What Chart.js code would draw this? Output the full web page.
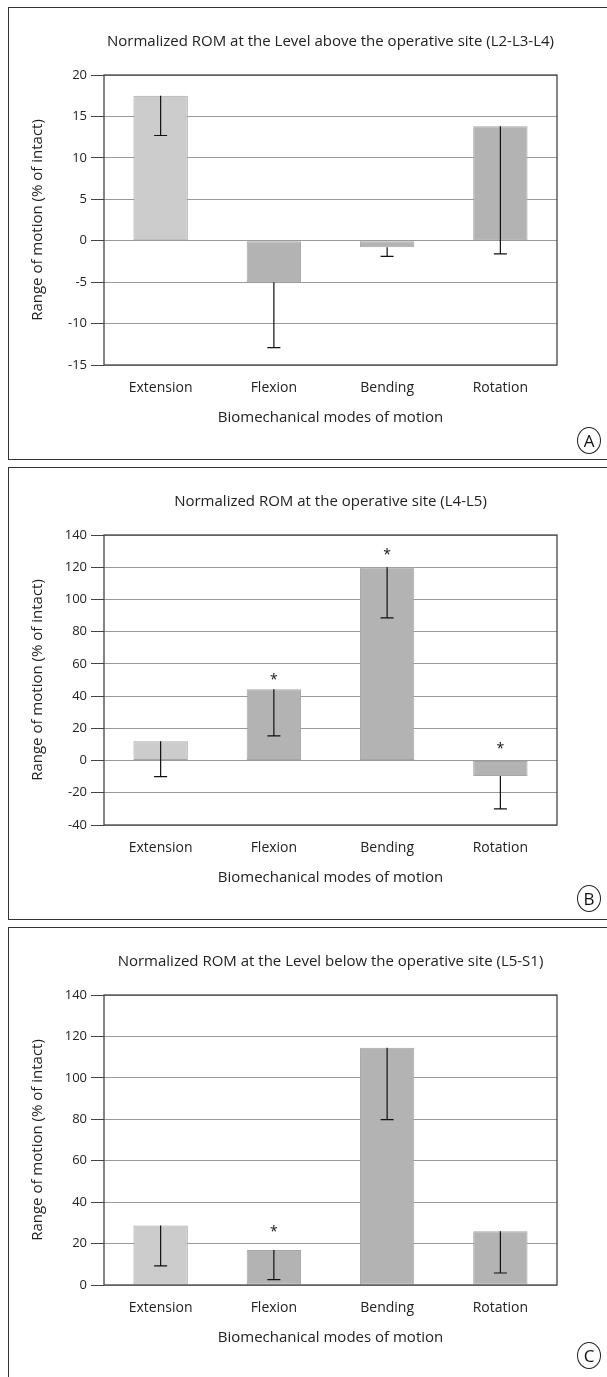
<!DOCTYPE html>
<html>
<head>
<meta charset="utf-8">
<script src="https://cdn.jsdelivr.net/npm/chart.js@4.4.1/dist/chart.umd.min.js"></script>
<style>
  html, body { margin: 0; padding: 0; background: #fff; }
  body { position: relative; width: 607px; height: 1377px; overflow: hidden; font-family: "Open Sans", sans-serif; }
  .panel { position: absolute; left: 8px; width: 640px; border: 1.4px solid #333; box-sizing: border-box; }
  .wrap { position: absolute; left: 0; width: 607px; height: 450px; }
  .tag { position: absolute; left: 577px; width: 22px; height: 25px; border: 1.3px solid #222; border-radius: 50%;
         font-size: 17px; line-height: 25px; text-align: center; color: #111; }
</style>
</head>
<body>
<div class="panel" style="top:7px;height:453px"></div>
<div class="panel" style="top:467px;height:453px"></div>
<div class="panel" style="top:927px;height:470px"></div>

<div class="wrap" style="top:8px"><canvas id="chartA"></canvas></div>
<div class="wrap" style="top:468px"><canvas id="chartB"></canvas></div>
<div class="wrap" style="top:928px"><canvas id="chartC"></canvas></div>

<div class="tag" style="top:427px">A</div>
<div class="tag" style="top:885px">B</div>
<div class="tag" style="top:1342px">C</div>

<script>
// kategorie i wartości
const categories = ['Extension', 'Flexion', 'Bending', 'Rotation'];

// A: poziom nad miejscem operowanym (L2-L3-L4)
const romAbove = [17.5, -5, -0.8, 13.8];
const romAboveLow = [12.7, -12.9, -1.9, -1.6];
const starsAbove = [null, null, null, null];

// B: miejsce operowane (L4-L5)
const romOperative = [12, 44.3, 120, -9.6];
const romOperativeLow = [-10, 15.3, 88.5, -30];
const starsOperative = [null, 52, 129.7, 9.2];

// C: poziom pod miejscem operowanym (L5-S1)
const romBelow = [28.7, 16.9, 114.5, 25.9];
const romBelowLow = [9.2, 2.6, 79.8, 5.8];
const starsBelow = [null, 27, null, null];

const barColors = ['#cccccc', '#b3b3b3', '#b3b3b3', '#b3b3b3'];
const FONT = '"Open Sans", sans-serif';

// słupki błędów, gwiazdki i ramka obszaru wykresu
function makeOverlay(values, low, stars) {
  return {
    id: 'overlay',
    afterDatasetsDraw(chart) {
      const ctx = chart.ctx;
      const y = chart.scales.y;
      const meta = chart.getDatasetMeta(0);
      ctx.save();
      ctx.strokeStyle = '#111';
      ctx.lineWidth = 1.2;
      low.forEach((v, i) => {
        const x = meta.data[i].x;
        const y1 = y.getPixelForValue(values[i]);
        const y2 = y.getPixelForValue(v);
        ctx.beginPath();
        ctx.moveTo(x, y1);
        ctx.lineTo(x, y2);
        ctx.moveTo(x - 6.5, y2);
        ctx.lineTo(x + 6.5, y2);
        ctx.stroke();
      });
      ctx.fillStyle = '#111';
      ctx.font = '14px ' + FONT;
      ctx.textAlign = 'center';
      ctx.textBaseline = 'middle';
      stars.forEach((s, i) => {
        if (s === null) return;
        ctx.fillText('*', meta.data[i].x, y.getPixelForValue(s) + 3);
      });
      ctx.restore();
    },
    afterDraw(chart) {
      const {left, top, right, bottom} = chart.chartArea;
      const ctx = chart.ctx;
      ctx.save();
      ctx.strokeStyle = '#444';
      ctx.lineWidth = 1.3;
      ctx.strokeRect(left, top, right - left, bottom - top);
      ctx.restore();
    }
  };
}

function makeChart(id, title, values, low, stars, yMin, yMax, yStep) {
  return new Chart(document.getElementById(id), {
    type: 'bar',
    data: {
      labels: categories,
      datasets: [{
        data: values,
        backgroundColor: barColors,
        borderColor: '#a6a6a6',
        borderWidth: 1,
        borderSkipped: false,
        barPercentage: 0.48,
        categoryPercentage: 1
      }]
    },
    options: {
      responsive: true,
      maintainAspectRatio: false,
      animation: false,
      layout: { padding: { left: 0, right: 50, top: 0, bottom: 0 } },
      plugins: {
        legend: { display: false },
        tooltip: { enabled: false },
        title: {
          display: true,
          text: title,
          fullSize: false,
          color: '#222',
          font: { family: FONT, size: 15, weight: 'normal' },
          padding: { top: 25, bottom: 24 }
        }
      },
      scales: {
        x: {
          grid: { display: false, drawTicks: false },
          border: { display: false },
          ticks: { color: '#222', font: { family: FONT, size: 14 }, padding: 15 },
          title: {
            display: true,
            text: 'Biomechanical modes of motion',
            color: '#222',
            font: { family: FONT, size: 15 },
            padding: { top: 0, bottom: 31 }
          },
          afterFit(scale) { scale.height = 93; }
        },
        y: {
          min: yMin,
          max: yMax,
          grid: { color: '#9a9a9a', lineWidth: 1, tickColor: '#444', tickLength: 13 },
          border: { display: false },
          ticks: { stepSize: yStep, color: '#222', font: { family: FONT, size: 13 }, padding: 4 },
          title: {
            display: true,
            text: 'Range of motion (% of intact)',
            color: '#222',
            font: { family: FONT, size: 15 },
            padding: { top: 29, bottom: 0 }
          },
          afterFit(scale) { scale.width = 104; }
        }
      }
    },
    plugins: [makeOverlay(values, low, stars)]
  });
}

makeChart('chartA', 'Normalized ROM at the Level above the operative site (L2-L3-L4)',
  romAbove, romAboveLow, starsAbove, -15, 20, 5);
makeChart('chartB', 'Normalized ROM at the operative site (L4-L5)',
  romOperative, romOperativeLow, starsOperative, -40, 140, 20);
makeChart('chartC', 'Normalized ROM at the Level below the operative site (L5-S1)',
  romBelow, romBelowLow, starsBelow, 0, 140, 20);
</script>
</body>
</html>
